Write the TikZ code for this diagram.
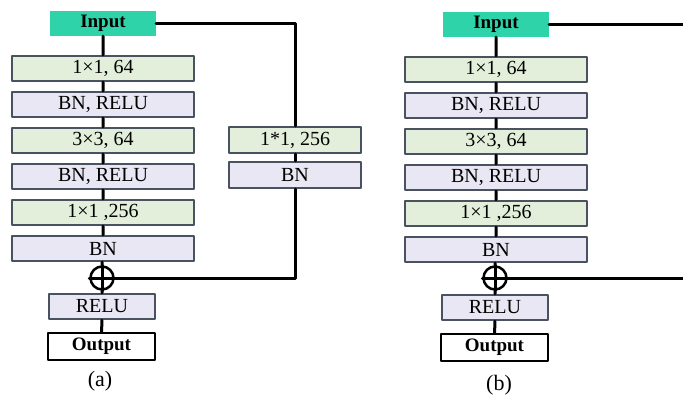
\documentclass[tikz,border=0pt]{standalone}
\usepackage{fontspec}
\setmainfont{Liberation Serif}
\usetikzlibrary{positioning}
\definecolor{inpteal}{RGB}{46,211,170}
\definecolor{convgreen}{RGB}{227,239,218}
\definecolor{normlav}{RGB}{232,231,243}
\definecolor{edgegray}{RGB}{72,82,96}
\begin{document}
\begin{tikzpicture}[x=1pt,y=-1pt,line cap=round,line join=round,font=\fontsize{20}{23}\selectfont]
	\tikzset{blk/.style={draw=edgegray,line width=2.4pt,minimum height=25pt,inner sep=0pt},
		conv/.style={blk,fill=convgreen,minimum width=182pt},
		norm/.style={blk,fill=normlav,minimum width=182pt},
		inbox/.style={fill=inpteal,minimum width=106pt,minimum height=25pt,inner sep=0pt,font=\fontsize{19}{22}\selectfont\bfseries},
		outbox/.style={draw=black,line width=2.4pt,fill=white,minimum width=107pt,minimum height=27pt,inner sep=0pt,font=\fontsize{19}{22}\selectfont\bfseries},
		addop/.style={circle,draw=black,line width=2.5pt,minimum size=23pt,inner sep=0pt},
		wire/.style={line width=3pt}}
	\useasboundingbox (0,0) rectangle (683,394);
	\clip (0,0) rectangle (683,394);
	% the two bottleneck columns
	\foreach \p/\dx/\dy in {a/0/0,b/393/1}{
		\node[inbox] (\p-in) at (103+\dx,23.5+\dy) {Input};
		\foreach \txt/\sty [count=\i] in {{1×1, 64}/conv,{BN, RELU}/norm,{3×3, 64}/conv,{BN, RELU}/norm,{1×1 ,256}/conv,{BN}/norm}
			\node[\sty] (\p-\i) at (103+\dx,68.5+36*\i-36+\dy) {\txt};
		\node[addop] (\p-sum) at (102+\dx,278) {};
		\node[blk,fill=normlav,minimum width=106pt] (\p-relu) at (102+\dx,306.5+\dy) {RELU};
		\node[outbox] (\p-out) at (101.5+\dx,346.5+\dy) {Output};
		\draw[wire] (\p-in) -- (\p-1) -- (\p-2) -- (\p-3) -- (\p-4) -- (\p-5) -- (\p-6) -- (\p-sum.north);
		\draw[wire] (\p-sum.north) -- (\p-sum.south) (\p-sum.west) -- (\p-sum.east);
		\draw[wire] (\p-sum.south) -- (\p-relu) -- (\p-out);
	}
	% projection shortcut of (a)
	\node[blk,fill=convgreen,minimum width=132pt,minimum height=26pt] (proj) at (295,140) {1*1, 256};
	\node[blk,fill=normlav,minimum width=132pt,minimum height=26pt] (projbn) at (295,175) {BN};
	\draw[wire] (a-in.east) -| (proj.north);
	\draw[wire] (proj) -- (projbn);
	\draw[wire] (projbn.south) |- (a-sum.east);
	% identity shortcut of (b)
	\coordinate (btop) at (684,24.5);
	\coordinate (bbot) at (684,278);
	\draw[wire] (b-in.east) -- (btop) -- (bbot) -- (b-sum.east);
	\node[font=\fontsize{22}{26}\selectfont] (alab) at (100,381) {(a)};
	\node[font=\fontsize{22}{26}\selectfont] (blab) at (499,385) {(b)};
\end{tikzpicture}
\end{document}
